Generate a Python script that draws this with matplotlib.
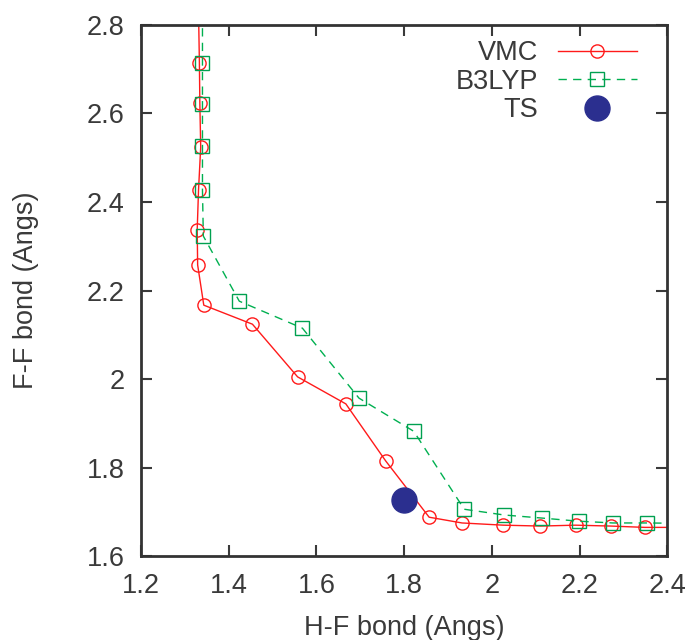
import matplotlib.pyplot as plt

plt.rcParams['font.family'] = ['Liberation Sans', 'DejaVu Sans']

# VMC path (H-F bond, F-F bond), first and last points lie outside the plot window
vmc_hf = [1.329, 1.333, 1.334, 1.336, 1.331, 1.328, 1.329, 1.343, 1.454, 1.557, 1.667,
          1.758, 1.857, 1.932, 2.026, 2.111, 2.191, 2.271, 2.349, 2.45]
vmc_ff = [2.95, 2.714, 2.624, 2.524, 2.427, 2.337, 2.258, 2.167, 2.124, 2.005, 1.944,
          1.815, 1.688, 1.675, 1.670, 1.668, 1.670, 1.668, 1.665, 1.665]

b3_hf = [1.340, 1.340, 1.340, 1.340, 1.340, 1.342, 1.424, 1.568, 1.697, 1.822,
         1.937, 2.028, 2.115, 2.198, 2.276, 2.353, 2.45]
b3_ff = [2.95, 2.714, 2.621, 2.527, 2.427, 2.323, 2.176, 2.115, 1.957, 1.882,
         1.706, 1.693, 1.686, 1.679, 1.675, 1.675, 1.674]

ts_hf = [1.80]
ts_ff = [1.726]

fig = plt.figure(figsize=(6.95, 6.4), dpi=100)
ax = fig.add_axes([0.203, 0.131, 0.757, 0.830])

n = len(vmc_hf)
ax.plot(vmc_hf, vmc_ff, '-', color='#ff1a1a', lw=1.0, marker='o', ms=9.5,
        mfc='none', mec='#ff1a1a', mew=1.0, label='VMC', markevery=list(range(1, n - 1)))
m = len(b3_hf)
ax.plot(b3_hf, b3_ff, '--', color='#00b050', lw=1.0, dashes=(6, 4.5), marker='s', ms=9.5,
        mfc='none', mec='#00a050', mew=1.0, label='B3LYP', markevery=list(range(1, m - 1)))
ax.plot(ts_hf, ts_ff, 'o', color='#2b2f8f', ms=18, ls='none', label='TS')

ax.set_xlim(1.2, 2.4)
ax.set_ylim(1.6, 2.8)
ax.set_xticks([1.2, 1.4, 1.6, 1.8, 2.0, 2.2, 2.4])
ax.set_xticklabels(['1.2', '1.4', '1.6', '1.8', '2', '2.2', '2.4'])
ax.set_yticks([1.6, 1.8, 2.0, 2.2, 2.4, 2.6, 2.8])
ax.set_yticklabels(['1.6', '1.8', '2', '2.2', '2.4', '2.6', '2.8'])
ax.tick_params(direction='in', length=8, width=1.5, top=True, right=True,
               labelsize=19.5, colors='#3a3a3a', pad=12)
for s in ax.spines.values():
    s.set_linewidth(2)
    s.set_color('#333333')

ax.set_xlabel('H-F bond (Angs)', fontsize=19.5, color='#3a3a3a', labelpad=12)
ax.set_ylabel('F-F bond (Angs)', fontsize=19.5, color='#3a3a3a', labelpad=34)

leg = ax.legend(loc='upper right', bbox_to_anchor=(0.964, 0.992), frameon=False,
                markerfirst=False, fontsize=19.5, handlelength=2.95, labelspacing=0.1,
                borderaxespad=0.0, handletextpad=0.7)
for t in leg.get_texts():
    t.set_color('#3a3a3a')

fig.savefig('out.png', dpi=100)
